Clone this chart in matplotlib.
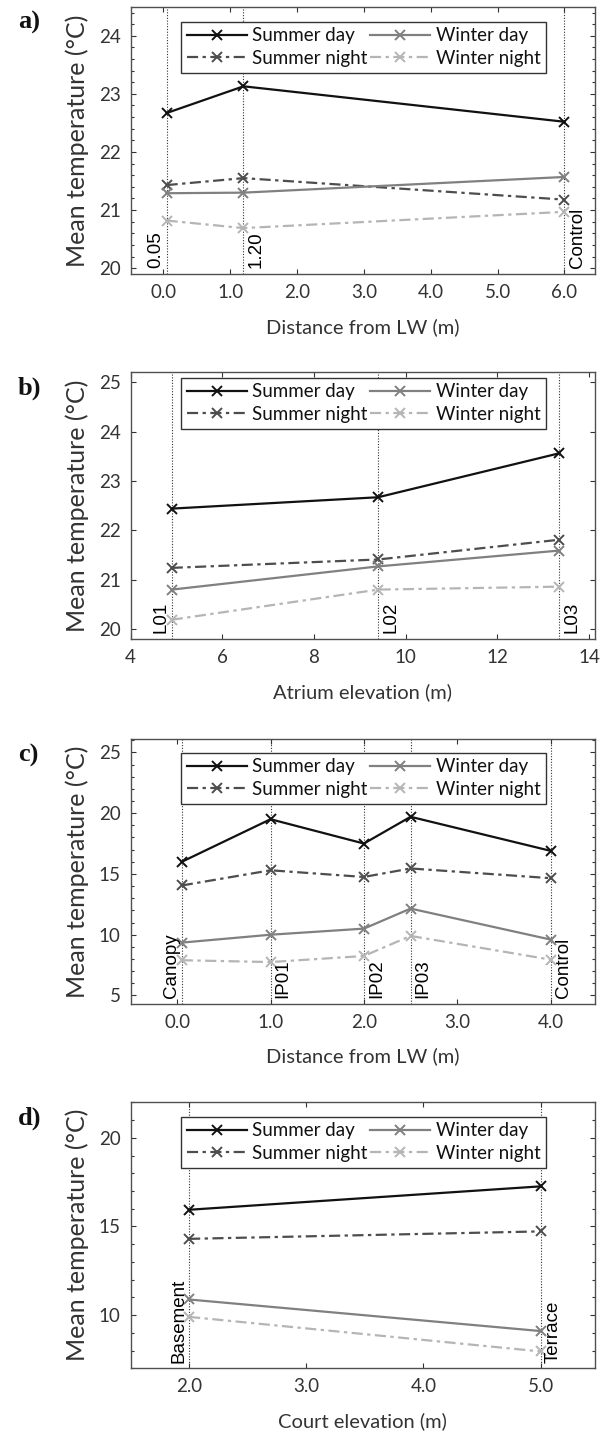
import matplotlib
matplotlib.use("Agg")
import matplotlib.pyplot as plt
from matplotlib.ticker import MultipleLocator, FormatStrFormatter, FixedLocator

plt.rcParams['font.family'] = ['Lato', 'DejaVu Sans']

series_names = ["Summer day", "Summer night", "Winter day", "Winter night"]

# Panel a
a_x = [0.05, 1.2, 6.0]
a_labels = ["0.05", "1.20", "Control"]
a_sd = [22.67, 23.13, 22.52]
a_sn = [21.43, 21.55, 21.18]
a_wd = [21.29, 21.30, 21.57]
a_wn = [20.82, 20.69, 20.97]

# Panel b
b_x = [4.9, 9.4, 13.35]
b_labels = ["L01", "L02", "L03"]
b_sd = [22.44, 22.67, 23.56]
b_sn = [21.24, 21.41, 21.81]
b_wd = [20.80, 21.27, 21.59]
b_wn = [20.19, 20.80, 20.86]

# Panel c
c_x = [0.05, 1.0, 2.0, 2.5, 4.0]
c_labels = ["Canopy", "IP01", "IP02", "IP03", "Control"]
c_sd = [16.0, 19.5, 17.5, 19.7, 16.9]
c_sn = [14.05, 15.3, 14.75, 15.45, 14.65]
c_wd = [9.35, 10.0, 10.5, 12.15, 9.6]
c_wn = [7.9, 7.75, 8.25, 9.9, 7.95]

# Panel d
d_x = [2.0, 5.0]
d_labels = ["Basement", "Terrace"]
d_sd = [15.94, 17.26]
d_sn = [14.30, 14.72]
d_wd = [10.88, 9.10]
d_wn = [9.90, 7.95]

colors = ['#111111', '#4d4d4d', '#808080', '#b5b5b5']
styles = ['-', (0, (5, 2, 1.5, 2)), '-', (0, (5, 2, 1.5, 2))]

fig = plt.figure(figsize=(6.03, 14.34), dpi=100)

W = 603.0
H = 1434.0
left_px, right_px = 130.5, 594.5
panels = [
    dict(letter="a)", top=6.7, bot=274.0, x=a_x, labels=a_labels,
         side=['l', 'r', 'r'], data=[a_sd, a_sn, a_wd, a_wn],
         xlim=(-0.49, 6.45), ylim=(19.9, 24.5), xticks=[0, 1, 2, 3, 4, 5, 6], xfmt="%.1f",
         yticks=[20, 21, 22, 23, 24], yminor=0.2, xlabel="Distance from LW (m)", legtop=0.944),
    dict(letter="b)", top=372.3, bot=639.0, x=b_x, labels=b_labels,
         side=['l', 'r', 'r'], data=[b_sd, b_sn, b_wd, b_wn],
         xlim=(4.0, 14.12), ylim=(19.8, 25.2), xticks=[4, 6, 8, 10, 12, 14], xfmt="%d",
         yticks=[20, 21, 22, 23, 24, 25], yminor=None, xlabel="Atrium elevation (m)", legtop=0.98),
    dict(letter="c)", top=739.0, bot=1004.0, x=c_x, labels=c_labels,
         side=['l', 'r', 'r', 'r', 'r'], data=[c_sd, c_sn, c_wd, c_wn],
         xlim=(-0.5, 4.47), ylim=(4.3, 26.1), xticks=[0, 1, 2, 3, 4], xfmt="%.1f",
         yticks=[5, 10, 15, 20, 25], yminor=1, xlabel="Distance from LW (m)", legtop=0.948),
    dict(letter="d)", top=1102.3, bot=1368.3, x=d_x, labels=d_labels,
         side=['l', 'r'], data=[d_sd, d_sn, d_wd, d_wn],
         xlim=(1.5, 5.46), ylim=(7.0, 22.0), xticks=[2, 3, 4, 5], xfmt="%.1f",
         yticks=[10, 15, 20], yminor=1, xlabel="Court elevation (m)", legtop=0.946),
]

tick_color = '#333333'
for p in panels:
    ax = fig.add_axes([left_px / W, 1 - p['bot'] / H, (right_px - left_px) / W, (p['bot'] - p['top']) / H])
    for xv in p['x']:
        ax.axvline(xv, color='#333333', linestyle=(0, (1, 1.5)), linewidth=0.8, zorder=1)
    handles = []
    for vals, name, c, ls in zip(p['data'], series_names, colors, styles):
        h, = ax.plot(p['x'], vals, color=c, linestyle=ls, linewidth=1.6, marker='x',
                     markersize=6.5, markeredgewidth=1.4, label=name, zorder=3)
        handles.append(h)
    ax.set_xlim(*p['xlim'])
    ax.set_ylim(*p['ylim'])
    ax.xaxis.set_major_locator(FixedLocator(p['xticks']))
    ax.xaxis.set_major_formatter(FormatStrFormatter(p['xfmt']))
    ax.yaxis.set_major_locator(FixedLocator(p['yticks']))
    ax.yaxis.set_major_formatter(FormatStrFormatter("%d"))
    if p['yminor']:
        ax.yaxis.set_minor_locator(MultipleLocator(p['yminor']))
    ax.tick_params(which='both', direction='in', top=True, right=True, colors=tick_color,
                   labelsize=13.5, width=0.8)
    ax.tick_params(which='major', length=3.5, pad=7)
    ax.tick_params(which='minor', length=2)
    for s in ax.spines.values():
        s.set_color('#505050')
        s.set_linewidth(1.0)
    ax.set_xlabel(p['xlabel'], fontsize=14.5, color=tick_color)
    ax.xaxis.set_label_coords(0.5, -0.165)
    ax.xaxis.label.set_va('top')
    ax.set_ylabel("Mean temperature (°C)", fontsize=18, color=tick_color)
    ax.yaxis.set_label_coords(-0.09, 0.5)
    for xv, lab, sd in zip(p['x'], p['labels'], p['side']):
        if sd == 'l':
            ax.annotate(lab, xy=(xv, 0), xycoords=('data', 'axes fraction'), xytext=(-1.5, 4),
                        textcoords='offset points', rotation=90, ha='right', va='bottom',
                        fontsize=13.5, family='Liberation Sans', color='black')
        else:
            ax.annotate(lab, xy=(xv, 0), xycoords=('data', 'axes fraction'), xytext=(3, 4),
                        textcoords='offset points', rotation=90, ha='left', va='bottom',
                        fontsize=13.5, family='Liberation Sans', color='black')
    leg = ax.legend(handles=handles, ncol=2, loc='upper left',
                    bbox_to_anchor=(0.109, p['legtop'] - 0.215, 0.787, 0.215), mode='expand',
                    fontsize=13.5, frameon=True, fancybox=False, framealpha=1,
                    edgecolor='#333333', handlelength=3.2, handletextpad=0.3,
                    borderpad=0.3, labelspacing=0.3, borderaxespad=0, columnspacing=0.6)
    leg.get_frame().set_linewidth(1.0)
    for t in leg.get_texts():
        t.set_color('#111111')
    fig.text(0.03, 1 - (p['top'] + 16) / H, p['letter'], fontsize=19, fontweight='bold',
             family='Liberation Serif', ha='left', va='center', color='#111111')

fig.savefig("out.png", dpi=100)
